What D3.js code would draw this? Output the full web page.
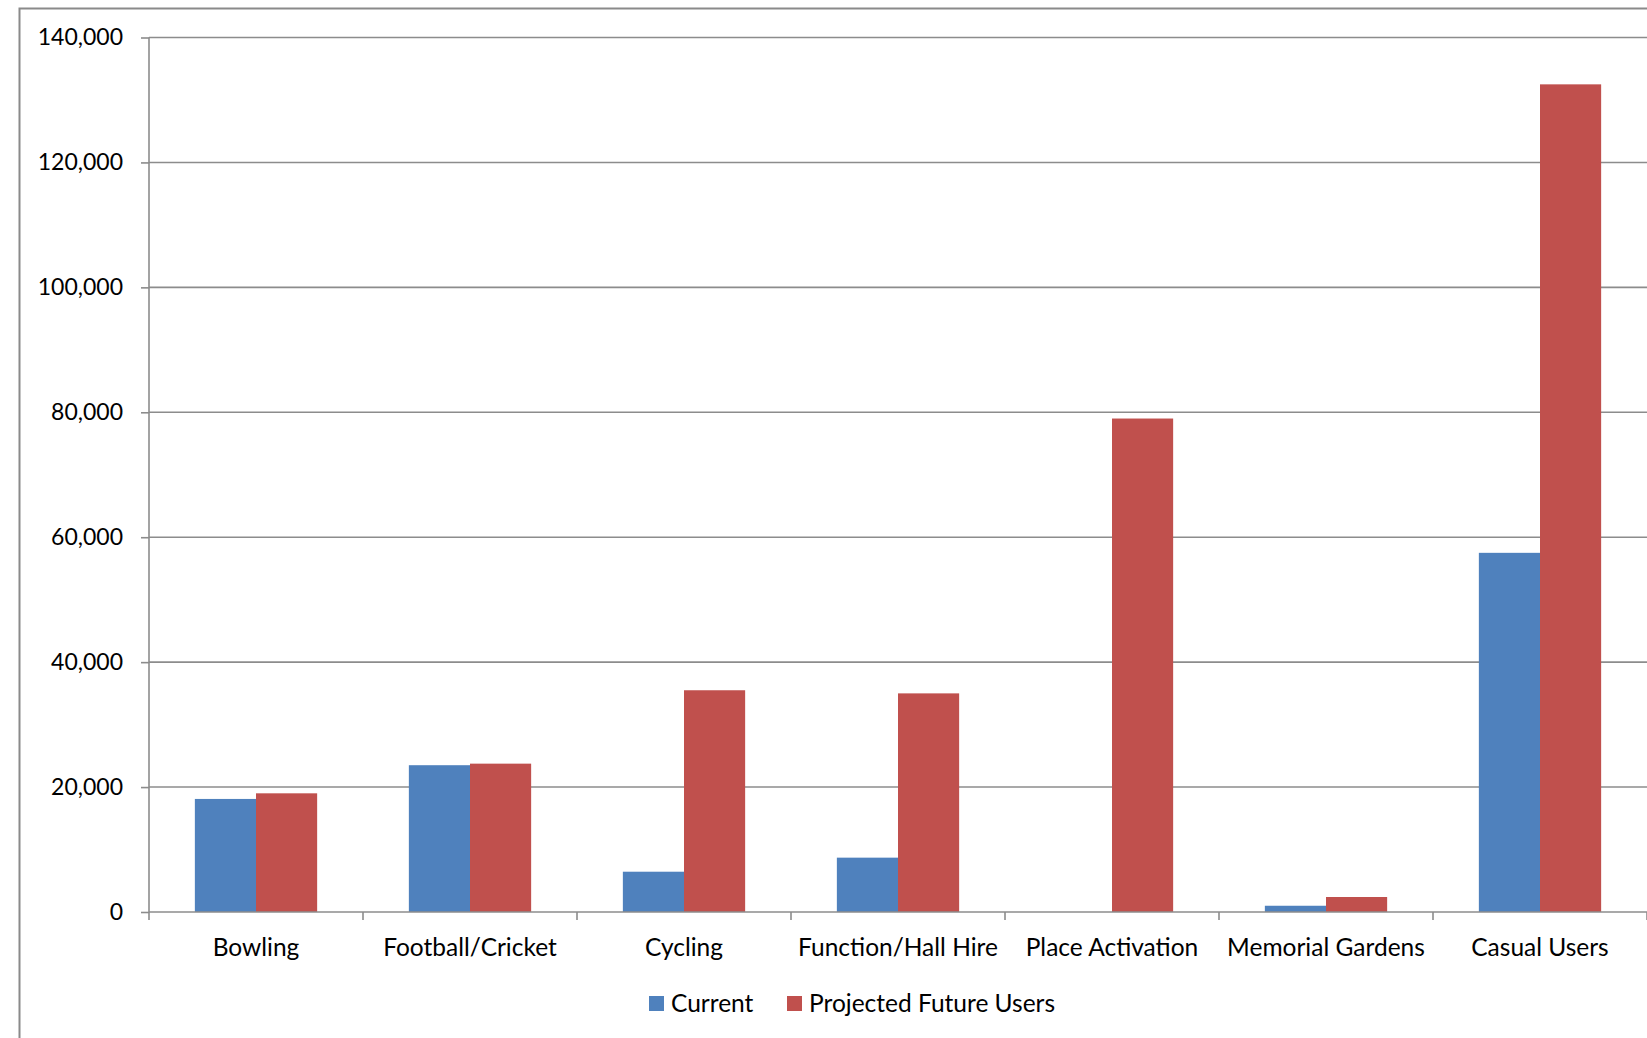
<!DOCTYPE html>
<html>
<head>
<meta charset="utf-8">
<script src="https://cdn.jsdelivr.net/npm/d3@7"></script>
<style>
  html, body { margin: 0; padding: 0; background: #fff; }
  svg { display: block; }
  text { font-family: Lato, "Noto Sans", sans-serif; fill: #000; }
</style>
</head>
<body>
<svg id="chart" width="1647" height="1038"></svg>
<script>
// Users per activity
const categories = ["Bowling", "Football/Cricket", "Cycling", "Function/Hall Hire",
                    "Place Activation", "Memorial Gardens", "Casual Users"];
const seriesNames = ["Current", "Projected Future Users"];
const currentUsers   = [18100, 23500, 6450, 8700, 0, 1000, 57500];
const projectedUsers = [19000, 23750, 35500, 35000, 79000, 2400, 132500];
const yTicks = [0, 20000, 40000, 60000, 80000, 100000, 120000, 140000];
const colors = ["#4F81BD", "#C0504D"];

const svg = d3.select("#chart");
const W = 1647, H = 1038;
const plot = { left: 149, right: 1647, top: 37.5, bottom: 912 };
const labelSize = 24.5, tickSize = 23;

// outer chart frame
svg.append("rect")
  .attr("x", 19.5).attr("y", 8.5)
  .attr("width", W + 20).attr("height", H + 20)
  .attr("fill", "none").attr("stroke", "#8a8a8a").attr("stroke-width", 2);

const x = d3.scaleBand().domain(categories).range([plot.left, plot.right]).padding(0);
const inner = d3.scaleBand().domain(seriesNames)
  .range([0, x.bandwidth()]).paddingInner(0).paddingOuter(0.75);
const y = d3.scaleLinear().domain([0, 140000]).range([plot.bottom, plot.top]);

// horizontal gridlines
svg.append("g").selectAll("line").data(yTicks.slice(1)).join("line")
  .attr("x1", plot.left).attr("x2", plot.right)
  .attr("y1", d => y(d)).attr("y2", d => y(d))
  .attr("stroke", "#8c8c8c").attr("stroke-width", 1.6);

// bars
const rows = categories.map((c, i) => ({ cat: c, vals: [currentUsers[i], projectedUsers[i]] }));
const groups = svg.append("g").selectAll("g").data(rows).join("g")
  .attr("transform", d => `translate(${x(d.cat)},0)`);
groups.selectAll("rect")
  .data(d => d.vals.map((v, k) => ({ name: seriesNames[k], v, k })))
  .join("rect")
  .attr("x", d => inner(d.name))
  .attr("width", inner.bandwidth())
  .attr("y", d => y(d.v))
  .attr("height", d => plot.bottom - y(d.v))
  .attr("fill", d => colors[d.k]);

// y axis
const yAxis = d3.axisLeft(y).tickValues(yTicks).tickSize(8).tickPadding(18)
  .tickFormat(d3.format(","));
const gy = svg.append("g").attr("transform", `translate(${plot.left},0)`).call(yAxis);
gy.select(".domain").attr("stroke", "#8c8c8c").attr("stroke-width", 1.6)
  .attr("d", `M0,${plot.top}V${plot.bottom}`);
gy.selectAll(".tick line").attr("stroke", "#8c8c8c").attr("stroke-width", 1.6);
gy.selectAll(".tick text").attr("font-size", tickSize).attr("font-family", "Lato, sans-serif")
  .attr("fill", "#000");

// x axis: boundary ticks between categories
const gx = svg.append("g").attr("transform", `translate(0,${plot.bottom})`);
gx.append("line").attr("x1", plot.left).attr("x2", plot.right)
  .attr("stroke", "#8c8c8c").attr("stroke-width", 1.6);
const bounds = categories.map(c => x(c)).concat([plot.right]);
gx.selectAll("line.tk").data(bounds).join("line").attr("class", "tk")
  .attr("x1", d => d).attr("x2", d => d).attr("y1", 0).attr("y2", 8)
  .attr("stroke", "#8c8c8c").attr("stroke-width", 1.6);
gx.selectAll("text").data(categories).join("text")
  .attr("x", d => x(d) + x.bandwidth() / 2).attr("y", 44)
  .attr("text-anchor", "middle").attr("font-size", labelSize)
  .text(d => d);

// legend
const legend = svg.append("g");
const legendItems = [{ name: seriesNames[0], x: 649 }, { name: seriesNames[1], x: 787 }];
legendItems.forEach((it, k) => {
  legend.append("rect").attr("x", it.x).attr("y", 996).attr("width", 15).attr("height", 15)
    .attr("fill", colors[k]);
  legend.append("text").attr("x", it.x + 22).attr("y", 1012).attr("font-size", labelSize).text(it.name);
});
</script>
</body>
</html>
